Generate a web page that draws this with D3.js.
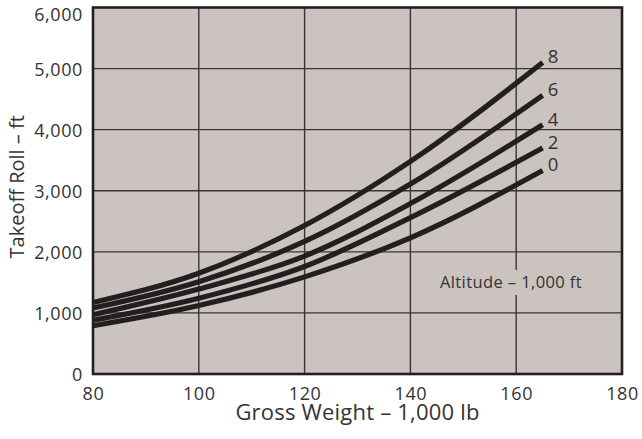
<!DOCTYPE html>
<html><head><meta charset="utf-8">
<script src="https://cdn.jsdelivr.net/npm/d3@7"></script>
<style>body{margin:0;background:#fff;} svg{display:block;}</style>
</head><body>
<svg id="c" width="642" height="439"></svg>
<script>
const weights = [80, 100, 120, 140, 165];
const altitudes = ["0", "2", "4", "6", "8"];
const roll0 = [790, 1120, 1590, 2230, 3330];
const roll2 = [880, 1240, 1760, 2560, 3700];
const roll4 = [970, 1390, 1930, 2790, 4080];
const roll6 = [1080, 1510, 2170, 3110, 4560];
const roll8 = [1170, 1650, 2430, 3480, 5100];
const xTicks = [80, 100, 120, 140, 160, 180];
const yTicks = [0, 1000, 2000, 3000, 4000, 5000, 6000];
const series = [roll0, roll2, roll4, roll6, roll8];

const svg = d3.select("#c");
const m = {l: 93, r: 20, t: 7.5, b: 65};
const W = 642, H = 439;
const x = d3.scaleLinear().domain([80, 180]).range([m.l, W - m.r]);
const y = d3.scaleLinear().domain([0, 6000]).range([H - m.b, m.t]);
const font = "'Open Sans', sans-serif";
const ink = "#231f20";
const txt = "#333";
const bg = "#cbc3c0";

svg.append("rect").attr("x", x(80)).attr("y", y(6000))
  .attr("width", x(180) - x(80)).attr("height", y(0) - y(6000))
  .attr("fill", bg);

// grid
svg.append("g").selectAll("line").data(xTicks.slice(1, -1)).join("line")
  .attr("x1", d => x(d)).attr("x2", d => x(d)).attr("y1", y(0)).attr("y2", y(6000))
  .attr("stroke", "#3a3435").attr("stroke-width", 1.4);
svg.append("g").selectAll("line").data(yTicks.slice(1, -1)).join("line")
  .attr("x1", x(80)).attr("x2", x(180)).attr("y1", d => y(d)).attr("y2", d => y(d))
  .attr("stroke", "#3a3435").attr("stroke-width", 1.4);

// border
svg.append("rect").attr("x", x(80)).attr("y", y(6000))
  .attr("width", x(180) - x(80)).attr("height", y(0) - y(6000))
  .attr("fill", "none").attr("stroke", ink).attr("stroke-width", 2.6);

// axes labels via d3 axes
const xAxis = svg.append("g").attr("transform", `translate(0,${y(0)})`)
  .call(d3.axisBottom(x).tickValues(xTicks).tickSize(0).tickPadding(11).tickFormat(d3.format("d")));
xAxis.select(".domain").remove();
xAxis.selectAll("text").attr("font-family", font).attr("font-size", 18).attr("fill", txt)
  .attr("letter-spacing", 0.6).attr("dy", null).attr("y", 400 - y(0));

const yAxis = svg.append("g").attr("transform", `translate(${x(80)},0)`)
  .call(d3.axisLeft(y).tickValues(yTicks).tickSize(0).tickPadding(10).tickFormat(d3.format(",")));
yAxis.select(".domain").remove();
yAxis.selectAll("text").attr("font-family", font).attr("font-size", 18).attr("fill", txt)
  .attr("letter-spacing", 0.6)
  .attr("dy", d => d === 6000 ? "12.5px" : "6.6px");

// curves
const line = d3.line().x((d, i) => x(weights[i])).y(d => y(d)).curve(d3.curveMonotoneX);
svg.append("g").selectAll("path").data(series).join("path")
  .attr("d", line).attr("fill", "none").attr("stroke", ink).attr("stroke-width", 5.2);

// curve labels
const lab = svg.append("g");
series.forEach((s, i) => {
  const lx = x(weights[weights.length - 1]) + 5, ly = y(s[s.length - 1]) - 6;
  lab.append("rect").attr("x", lx - 1).attr("y", ly - 10).attr("width", 15).attr("height", 20).attr("fill", bg);
  lab.append("text").attr("x", lx).attr("y", ly).attr("dy", "0.37em")
    .attr("font-family", font).attr("font-size", 18.5).attr("fill", txt).text(altitudes[i]);
});

// altitude note
const note = "Altitude \u2013 1,000 ft";
svg.append("rect").attr("x", 435).attr("y", 270).attr("width", 152).attr("height", 25).attr("fill", bg);
svg.append("text").attr("x", 511).attr("y", 282).attr("dy", "0.35em").attr("text-anchor", "middle")
  .attr("font-family", font).attr("font-size", 16.5).attr("letter-spacing", 0.4).attr("fill", txt).text(note);

// titles
svg.append("text").attr("x", x(130)).attr("y", 419.5).attr("text-anchor", "middle")
  .attr("font-family", font).attr("font-size", 22).attr("letter-spacing", 0.2).attr("fill", txt).text("Gross Weight \u2013 1,000 lb");
svg.append("text").attr("transform", `translate(17,${(y(0) + y(6000)) / 2 - 4}) rotate(-90)`)
  .attr("dy", "0.35em").attr("text-anchor", "middle")
  .attr("font-family", font).attr("font-size", 20).attr("fill", txt).text("Takeoff Roll \u2013 ft");
</script>
</body></html>
